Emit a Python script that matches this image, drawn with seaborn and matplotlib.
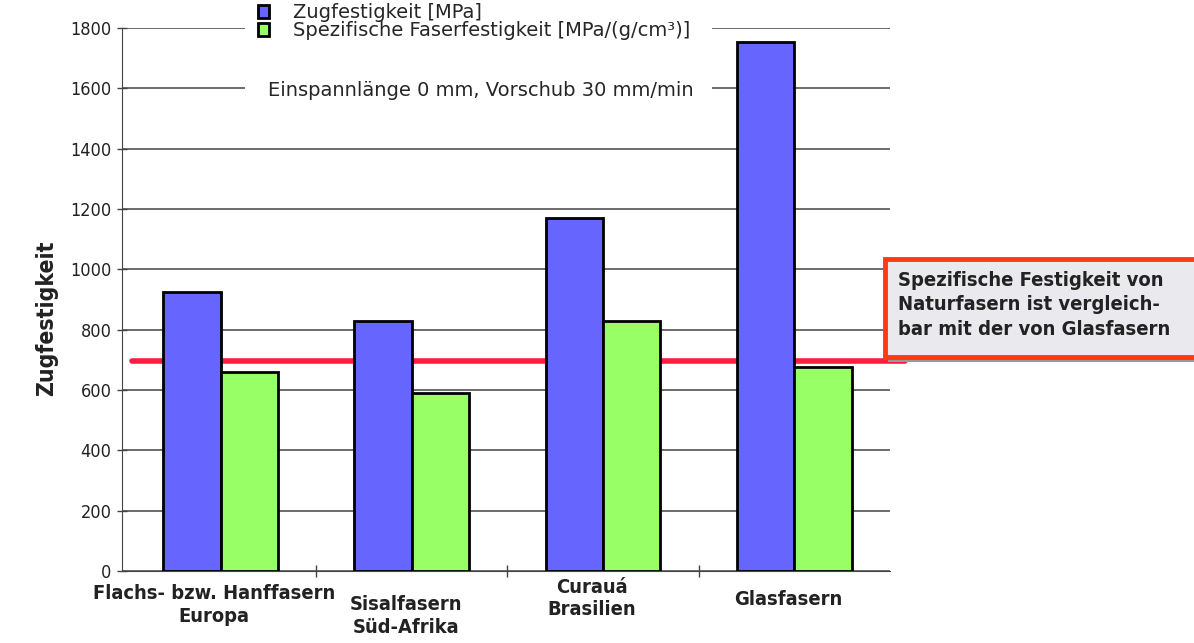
import numpy as np
import pandas as pd
import seaborn as sns
import matplotlib.pyplot as plt
from matplotlib.patches import Rectangle

# values
categories = ["Flachs- bzw. Hanffasern\nEuropa", "Sisalfasern\nSüd-Afrika",
              "Curauá\nBrasilien", "Glasfasern"]
zugfestigkeit = [925, 830, 1170, 1755]
spez_festigkeit = [660, 590, 830, 675]
series_names = ["Zugfestigkeit [MPa]", "Spezifische Faserfestigkeit [MPa/(g/cm³)]"]
reference_level = 695
y_ticks = [0, 200, 400, 600, 800, 1000, 1200, 1400, 1600, 1800]

data = pd.DataFrame({
    "Faser": categories * 2,
    "Wert": zugfestigkeit + spez_festigkeit,
    "Serie": [series_names[0]] * 4 + [series_names[1]] * 4,
})

sns.set_style("white")
plt.rcParams['font.family'] = ['DejaVu Sans']
narrow = dict(family=['DejaVu Sans'], fontstretch='condensed', fontweight='bold')

fig = plt.figure(figsize=(11.94, 6.43), dpi=100)
ax = fig.add_axes([122 / 1194, 72 / 643, 768 / 1194, 543 / 643])

sns.barplot(data=data, x="Faser", y="Wert", hue="Serie", ax=ax,
            palette=["#6666ff", "#99ff66"], width=0.6, saturation=1,
            edgecolor="black", linewidth=2.0, zorder=3)

handles, labels = ax.get_legend_handles_labels()
ax.get_legend().remove()

ax.set_ylim(0, 1800)
ax.set_xlim(-0.515, 3.5)
ax.set_yticks(y_ticks)
ax.yaxis.grid(True, color="#444444", linewidth=1.1, zorder=0)
ax.set_axisbelow(True)
ax.tick_params(axis="y", labelsize=13, direction="inout", length=7,
               width=1, color="#444444", left=True, pad=4)
for lbl in ax.get_yticklabels():
    lbl.set_fontstretch('condensed')
    lbl.set_color("#222222")

# category labels hidden, boundary ticks on x axis
ax.set_xticks([0.5, 1.5, 2.5])
ax.set_xticklabels([])
ax.tick_params(axis="x", direction="inout", length=8, width=1,
               color="#444444", bottom=True)
label_offsets = [-0.024, -0.045, -0.012, -0.035]
label_shift = [-0.035, -0.03, -0.06, -0.03]
for i, cat in enumerate(categories):
    ax.text(i + label_shift[i], label_offsets[i], cat,
            transform=ax.get_xaxis_transform(), color="#222222",
            ha="center", va="top", fontsize=14.4, linespacing=1.25, **narrow)

ax.set_xlabel("")
ax.set_ylabel("Zugfestigkeit", fontsize=16.5, color="#222222", **narrow)
ax.yaxis.set_label_coords(-0.083, 0.466)

for side in ["top", "right"]:
    ax.spines[side].set_visible(False)
ax.spines["left"].set_color("#444444")
ax.spines["bottom"].set_color("#444444")

# red reference line reaching into the annotation box
ax.axhline(reference_level, xmin=0.013, xmax=1.02, color="#ff1a40",
           linewidth=4, zorder=2, clip_on=False)

# white legend area on top
fig.add_artist(Rectangle((245 / 1194, 533 / 643), 467 / 1194, 110 / 643,
                         transform=fig.transFigure, facecolor="white",
                         edgecolor="none", zorder=5))
fig.legend(handles, labels, loc="upper left",
           bbox_to_anchor=(240 / 1194, 1.022), frameon=False, fontsize=14,
           handlelength=0.6, handleheight=0.6, handletextpad=1.25,
           labelspacing=-0.05).set_zorder(6)
fig.text(268 / 1194, 1 - 90 / 643, "Einspannlänge 0 mm, Vorschub 30 mm/min",
         fontsize=14, va="center", ha="left", zorder=6)

# annotation box on the right
fig.add_artist(Rectangle((888 / 1194, 1 - 362 / 643), 320 / 1194, 100 / 643,
                         transform=fig.transFigure, facecolor="#999999",
                         edgecolor="none", zorder=6))
fig.add_artist(Rectangle((885 / 1194, 1 - 357 / 643), 320 / 1194, 98 / 643,
                         transform=fig.transFigure, facecolor="#e9e9ee",
                         edgecolor="#ff3a10", linewidth=3.5, zorder=7))
fig.text(898 / 1194, 1 - 305 / 643,
         "Spezifische Festigkeit von\nNaturfasern ist vergleich-\nbar mit der von Glasfasern",
         fontsize=14.5, color="#222222", va="center", ha="left",
         linespacing=1.38, zorder=8, **narrow)

fig.savefig("out.png", dpi=100)
